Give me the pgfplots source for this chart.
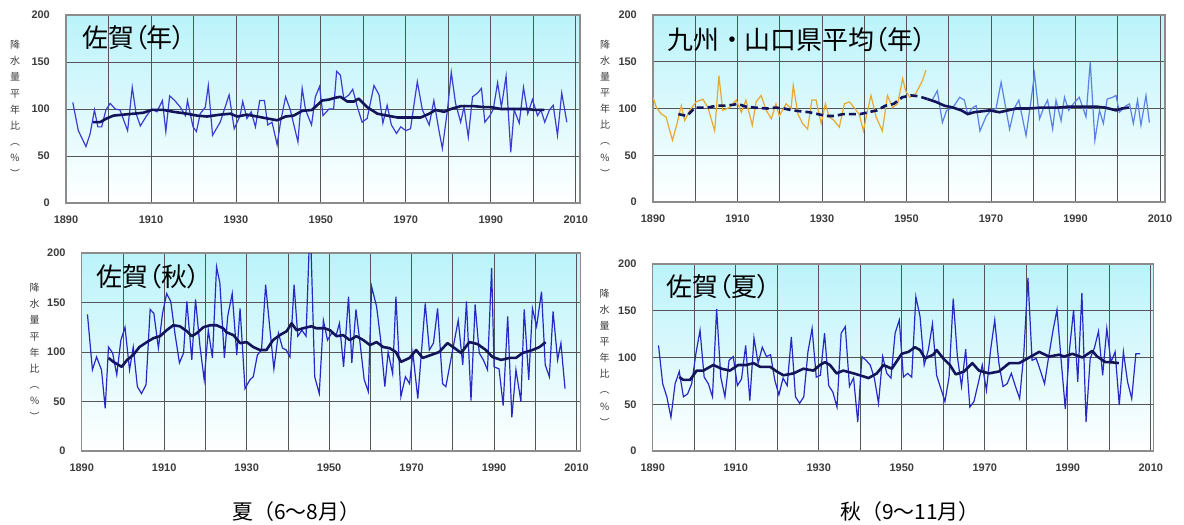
\documentclass[border=0pt]{standalone}
\usepackage{fontspec}
\setmainfont{Liberation Sans}
\newfontfamily\cjk{Noto Sans CJK JP}
\newfontfamily\cjkp{Noto Sans CJK JP}[RawFeature=+palt]
\usepackage{pgfplots}
\pgfplotsset{compat=1.18}

\definecolor{bgtop}{RGB}{186,243,250}
\definecolor{gridc}{RGB}{85,85,85}
\definecolor{framec}{RGB}{140,140,140}
\definecolor{ma}{RGB}{20,20,90}
\definecolor{yb1}{RGB}{60,60,210}
\definecolor{yb2}{RGB}{90,130,230}
\definecolor{yb3}{RGB}{40,40,200}
\definecolor{orng}{RGB}{232,168,50}
\definecolor{tickc}{RGB}{60,60,60}

\pgfplotsset{panel/.style={
  scale only axis, anchor=north west,
  xmin=1890, ymin=0, ymax=200,
  xtick={1890,1910,...,2010}, minor xtick={1900,1920,...,2000},
  ytick={0,50,...,200},
  grid=both,
  major grid style={draw=gridc, line width=0.8bp},
  minor grid style={draw=gridc, line width=0.8bp},
  major tick length=0pt, minor tick length=0pt,
  axis line style={draw=framec, line width=1.2bp},
  axis background/.style={top color=bgtop, bottom color=white},
  tick label style={font=\fontsize{11}{11}\selectfont\bfseries, text=tickc},
  xticklabel style={anchor=north, inner sep=0pt, yshift=-13bp},
  yticklabel style={anchor=east, inner sep=0pt, xshift=-16bp},
  /pgf/number format/assume math mode=true,
  /pgf/number format/1000 sep={},
  clip=true,
}}
\tikzset{yearly/.style={mark=none, line width=1.2bp},
  mav/.style={mark=none, draw=ma, line width=2.6bp, line join=round}}
\newcommand{\ylab}{降\\水\\量\\平\\年\\比\\︵\\\%\\︶}

\begin{document}
\begin{tikzpicture}
\useasboundingbox (0,0) rectangle (1184bp,-525bp);

% ---------------- Panel 1: Saga (year)
\begin{axis}[panel, name=p1, at={(66bp,-15bp)}, width=514bp, height=188bp, xmax=2011]
\addplot[yearly, draw=yb1] table {
1891.6 107
1892.9 77
1894.7 60
1895.7 74
1896.7 99
1897.5 81
1898.4 81
1899.4 99
1900.4 106
1901.6 100
1902.7 99
1904.5 77
1905.6 123
1906.5 95
1907.5 82
1909.0 93
1910.2 100
1911.4 97
1912.7 109
1913.5 76
1914.4 114
1915.6 109
1916.9 102
1918.1 93
1918.6 109
1919.9 81
1920.7 76
1921.6 95
1922.8 102
1923.5 125
1924.5 72
1926.3 86
1928.4 115
1929.6 79
1931.0 93
1931.6 108
1932.6 90
1933.6 97
1934.6 81
1935.6 109
1936.7 109
1937.5 83
1938.5 86
1939.7 62
1940.5 86
1941.7 113
1942.8 99
1944.6 65
1945.6 122
1946.4 99
1947.8 83
1948.7 113
1949.7 124
1950.5 93
1951.9 100
1953.0 100
1953.7 140
1954.6 136
1955.4 111
1956.6 115
1957.5 121
1958.6 102
1959.7 86
1960.9 90
1962.5 125
1963.7 115
1964.6 85
1965.6 104
1966.6 83
1967.8 74
1968.8 81
1970.0 77
1971.1 79
1972.7 129
1973.9 99
1975.5 83
1976.6 109
1977.8 77
1978.6 58
1979.8 99
1980.7 139
1981.7 106
1982.9 86
1983.7 102
1984.7 70
1985.7 113
1986.9 117
1987.8 122
1988.6 86
1989.8 93
1990.6 100
1991.6 128
1992.5 102
1993.6 135
1994.7 54
1995.5 99
1996.7 85
1997.7 123
1998.7 95
1999.8 110
2001.0 93
2001.8 99
2002.7 86
2003.8 99
2004.7 104
2005.7 72
2006.7 117
2007.9 86
};
\addplot[mav] table {
1896.4 86
1898.0 86
1899.6 90
1901.2 93
1903.5 94
1905.9 95
1908.2 96
1910.2 99
1913.0 99
1915.3 97
1918.5 95
1920.8 93
1923.2 92
1926.3 94
1928.7 95
1930.3 92
1932.6 94
1935.0 92
1937.3 90
1939.7 88
1941.7 92
1943.6 93
1945.6 98
1947.9 99
1950.3 109
1951.9 110
1953.4 112
1954.6 113
1956.2 108
1957.8 108
1958.9 111
1960.9 102
1963.3 95
1965.6 93
1968.0 91
1971.1 91
1973.5 91
1975.5 95
1977.0 99
1979.0 97
1980.6 100
1982.9 103
1986.1 103
1988.4 102
1990.0 102
1992.4 100
1995.5 100
1998.7 100
2000.2 99
2002.6 99
};
\end{axis}

% ---------------- Panel 2: Kyushu-Yamaguchi average (year)
\begin{axis}[panel, name=p2, at={(653bp,-15bp)}, width=512bp, height=187bp, xmax=2011.2]
\addplot[yearly, draw=orng] table {
1890.0 112
1890.8 101
1892.0 94
1893.1 91
1894.6 66
1895.7 84
1896.7 103
1897.5 87
1898.7 98
1900.2 107
1901.8 110
1903.0 101
1904.6 76
1905.6 135
1906.5 98
1908.1 101
1909.7 109
1910.9 96
1912.0 109
1913.5 82
1914.4 107
1915.6 114
1916.8 98
1918.0 89
1919.1 105
1919.9 92
1921.5 105
1922.7 100
1923.2 125
1924.3 94
1925.4 84
1926.6 78
1927.6 109
1928.6 109
1929.8 84
1930.8 105
1931.7 91
1932.9 87
1934.1 80
1935.3 105
1936.5 107
1937.6 101
1938.8 94
1939.8 76
1940.8 98
1941.6 114
1942.8 91
1944.3 76
1945.5 114
1946.7 101
1947.9 105
1949.1 132
1949.8 119
1950.8 112
1952.2 116
1953.8 130
1954.6 141
};
\addplot[yearly, draw=yb2] table {
1956.1 109
1957.3 119
1958.5 85
1959.5 98
1961.0 101
1962.6 112
1963.7 109
1964.5 94
1965.7 101
1966.5 103
1967.4 76
1968.9 92
1970.0 98
1971.2 100
1972.4 128
1973.6 98
1974.4 78
1975.6 101
1976.6 109
1978.3 71
1979.5 109
1980.3 137
1981.5 89
1982.5 101
1983.4 109
1984.6 78
1985.4 109
1986.6 87
1987.4 112
1988.4 98
1989.5 105
1990.9 112
1992.5 91
1993.5 150
1994.6 66
1995.7 98
1996.6 84
1997.5 110
1998.8 112
1999.6 114
2000.4 96
2002.0 103
2002.8 105
2003.7 84
2004.7 109
2005.5 82
2006.7 114
2007.5 85
};
\addplot[mav, dash pattern=on 7bp off 4bp] table {
1896 94
1898 92
1900 101
1903 101
1905 103
1907 103
1909 104
1910 105
1912 102
1914 101
1917 100
1919 101
1921 100
1923 98
1925 97
1927 96
1929 94
1931 92
1933 92
1935 94
1937 94
1939 94
1941 96
1943 98
1945 103
1947 105
1949 112
1951 114
1953 113
1955 110
};
\addplot[mav] table {
1955 110
1957 107
1959 103
1961 101
1963 98
1964.5 94
1966 96
1969.7 98
1972 96
1974 98
1976 100
1979 100
1982 101
1986 101
1988.6 102
1991.7 102
1994.9 102
1997 101
1999.6 98
2001 100
2002.7 101
};
\end{axis}

% ---------------- Panel 3: Saga (autumn)
\begin{axis}[panel, name=p3, at={(81.7bp,-253bp)}, width=499bp, height=198bp, xmax=2011]
\addplot[yearly, draw=yb3] table {
1891.4 138
1892.6 82
1893.6 95
1894.8 82
1895.7 43
1896.5 105
1897.5 99
1898.5 77
1899.5 112
1900.5 125
1901.6 82
1902.5 105
1903.5 65
1904.5 58
1905.6 67
1906.6 143
1907.5 139
1908.6 104
1909.6 139
1910.6 159
1911.6 151
1912.6 119
1913.7 89
1914.7 99
1915.5 151
1916.7 92
1917.6 153
1918.7 105
1919.7 72
1920.7 122
1921.7 94
1922.7 186
1923.5 170
1924.6 94
1925.4 136
1926.5 159
1927.6 97
1928.4 144
1929.6 63
1930.8 72
1931.6 75
1932.6 97
1933.6 102
1934.6 168
1935.5 129
1936.6 83
1937.7 119
1938.7 104
1939.6 102
1940.5 95
1941.5 168
1942.4 116
1943.4 122
1944.4 116
1945.4 235
1946.5 75
1947.6 58
1948.6 132
1949.6 112
1950.6 119
1951.7 117
1952.5 129
1953.5 85
1954.7 156
1955.5 89
1956.5 143
1957.5 109
1958.5 72
1959.5 60
1960.3 166
1961.5 146
1962.5 112
1963.5 65
1964.3 100
1965.4 78
1966.2 156
1967.4 55
1968.5 75
1969.5 68
1970.3 99
1971.5 53
1973.3 149
1974.3 102
1975.3 109
1976.3 144
1977.5 68
1978.3 65
1979.5 92
1981.3 132
1982.4 87
1983.3 151
1984.4 51
1985.4 148
1986.4 99
1987.4 92
1988.4 82
1989.4 185
1990.0 85
1991.2 83
1992.2 46
1993.3 136
1994.3 34
1995.3 82
1996.5 50
1997.3 143
1998.4 72
1999.3 144
2000.3 126
2001.5 161
2002.4 87
2003.4 75
2004.3 141
2005.4 92
2006.2 109
2007.2 63
};
\addplot[mav] table {
1896.5 94
1897.7 90
1899.7 85
1901.0 92
1902.5 97
1904.0 105
1905.8 110
1907.4 114
1909.0 116
1910.6 122
1912.2 127
1913.8 126
1915.5 121
1916.7 116
1917.9 119
1919.5 125
1921.1 127
1922.7 127
1924.3 124
1925.1 120
1926.8 117
1928.4 109
1930.0 110
1931.6 105
1933.2 102
1934.8 102
1936.4 112
1938.0 117
1939.7 121
1940.9 129
1942.1 122
1943.7 124
1945.7 126
1946.9 124
1948.9 124
1950.2 122
1951.8 116
1953.4 117
1955.0 112
1956.6 116
1958.3 112
1959.9 107
1961.5 110
1963.1 105
1964.6 104
1966.2 100
1967.4 90
1969.5 94
1971.1 102
1972.7 94
1974.7 97
1976.7 100
1978.7 109
1980.4 104
1982.0 99
1984.0 110
1986.0 108
1988.0 102
1989.6 95
1991.7 92
1993.7 94
1995.3 94
1996.9 99
1999.3 102
2001.0 105
2002.5 110
};
\end{axis}

% ---------------- Panel 4: Saga (summer)
\begin{axis}[panel, name=p4, at={(652.7bp,-264bp)}, width=501bp, height=187bp, xmax=2010.7]
\addplot[yearly, draw=yb3] table {
1891.4 113
1892.4 72
1893.4 58
1894.4 36
1895.4 72
1896.4 85
1897.4 58
1898.4 61
1899.4 72
1900.4 104
1901.4 129
1902.4 79
1903.4 72
1904.4 58
1905.4 152
1906.4 79
1907.4 58
1908.4 97
1909.4 101
1910.4 70
1911.4 77
1912.4 113
1913.4 54
1914.4 121
1915.4 94
1916.4 111
1917.4 101
1918.4 103
1919.4 76
1920.4 60
1921.4 78
1922.4 70
1923.4 122
1924.4 58
1925.4 51
1926.4 58
1927.4 106
1928.4 131
1929.4 79
1930.4 81
1931.4 126
1932.4 70
1933.4 63
1934.4 47
1935.4 126
1936.4 133
1937.4 69
1938.4 78
1939.4 31
1940.4 101
1941.4 97
1942.4 92
1943.4 78
1944.4 51
1945.4 101
1946.4 83
1947.4 78
1948.4 126
1949.4 140
1950.4 79
1951.4 83
1952.4 79
1953.4 165
1954.4 144
1955.4 92
1956.4 108
1957.4 136
1958.4 81
1959.4 67
1960.4 53
1961.4 79
1962.4 163
1963.4 101
1964.4 69
1965.4 109
1966.4 47
1967.4 53
1968.4 72
1969.4 92
1970.4 65
1971.4 108
1972.4 140
1973.4 94
1974.4 69
1975.4 72
1976.4 83
1977.4 69
1978.4 56
1979.4 104
1980.4 185
1981.4 97
1982.4 99
1983.4 86
1984.4 72
1985.4 101
1986.4 128
1987.4 151
1988.4 97
1989.4 45
1990.4 108
1991.4 151
1992.4 74
1993.4 169
1994.4 31
1995.4 99
1996.4 110
1997.4 128
1998.4 81
1999.4 131
2000.4 95
2001.4 106
2002.4 49
2003.4 106
2004.4 74
2005.4 56
2006.4 104
2007.4 104
};
\addplot[mav] table {
1896.4 79
1897.4 76
1899.0 76
1900.6 86
1902.2 86
1904.6 92
1906.6 88
1908.6 86
1910.6 92
1912.6 92
1914.3 94
1915.9 90
1918.3 90
1919.9 85
1921.5 81
1923.9 83
1926.3 88
1928.7 86
1930.3 92
1931.5 95
1932.7 92
1934.3 83
1935.9 86
1938.4 83
1939.9 81
1942.0 78
1944.0 83
1945.6 92
1947.6 88
1950.0 104
1951.6 106
1953.2 111
1954.4 108
1955.6 99
1957.6 103
1958.4 108
1960.0 99
1961.6 92
1963.0 82
1965.0 85
1967.0 94
1968.6 86
1971.0 83
1973.4 85
1975.9 94
1978.3 94
1981.1 101
1983.1 106
1985.5 101
1987.9 103
1989.1 101
1991.1 104
1993.5 100
1995.9 107
1997.1 101
1999.1 95
2000.3 95
2002.3 94
};
\end{axis}

% ---------------- titles and labels
\tikzset{ttl/.style={anchor=west, inner sep=0pt, font=\fontsize{26}{26}\selectfont}}
\node[ttl] at ([xshift=16bp,yshift=-23bp]p1.north west) {\cjk 佐賀\cjkp（年）};
\node[ttl] at ([xshift=14bp,yshift=-25bp]p2.north west) {\cjk 九州・山口県平均\cjkp（年）};
\node[ttl] at ([xshift=15bp,yshift=-24bp]p3.north west) {\cjk 佐賀\cjkp（秋）};
\node[ttl] at ([xshift=14bp,yshift=-23bp]p4.north west) {\cjk 佐賀\cjkp（夏）};

\tikzset{ylb/.style={align=center, inner sep=0pt, text=tickc, font=\cjk\fontsize{10}{16.2}\selectfont}}
\node[ylb] at ([xshift=-51bp]p1.west) {\ylab};
\node[ylb] at ([xshift=-48bp]p2.west) {\ylab};
\node[ylb] at ([xshift=-47bp]p3.west) {\ylab};
\node[ylb] at ([xshift=-48bp]p4.west) {\ylab};

\node[anchor=west, inner sep=0pt, font=\fontsize{21}{21}\selectfont] at (232bp,-512bp) {\cjk 夏（6～8月）};
\node[anchor=west, inner sep=0pt, font=\fontsize{21}{21}\selectfont] at (840bp,-512bp) {\cjk 秋（9～11月）};
\end{tikzpicture}
\end{document}
